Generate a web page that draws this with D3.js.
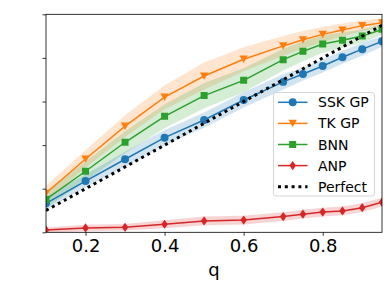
<!DOCTYPE html>
<html><head><meta charset="utf-8">
<script src="https://cdn.jsdelivr.net/npm/d3@7"></script>
<style>body{margin:0;background:#fff}svg{display:block}</style>
</head><body>
<script>
const qValues = [0.1,0.2,0.3,0.4,0.5,0.6,0.7,0.75,0.8,0.85,0.9,0.95];
const sskMean = [0.133,0.235,0.335,0.434,0.515,0.607,0.69,0.726,0.763,0.803,0.84,0.876];
const sskStd  = [0.03,0.03,0.035,0.035,0.035,0.035,0.035,0.03,0.03,0.03,0.03,0.025];
const tkMean  = [0.179,0.336,0.487,0.62,0.717,0.794,0.855,0.883,0.908,0.928,0.948,0.961];
const tkStd   = [0.035,0.04,0.05,0.055,0.062,0.055,0.045,0.04,0.035,0.03,0.025,0.02];
const bnnMean = [0.151,0.28,0.413,0.532,0.627,0.697,0.792,0.83,0.864,0.881,0.9,0.931];
const bnnStd  = [0.04,0.045,0.05,0.055,0.058,0.055,0.05,0.045,0.04,0.035,0.03,0.025];
const anpMean = [0.01,0.02,0.023,0.037,0.052,0.056,0.072,0.083,0.093,0.098,0.113,0.138];
const anpStd  = [0.012,0.015,0.015,0.018,0.02,0.02,0.02,0.02,0.02,0.02,0.02,0.02];
const seriesNames = ["SSK GP","TK GP","BNN","ANP"];
const xTicks = [0.2,0.4,0.6,0.8];
const yTicks = [0,0.2,0.4,0.6,0.8,1.0];

const W=388,H=288;
const svg=d3.select("body").append("svg").attr("width",W).attr("height",H);
const L=46,R=382,T=14.3,B=232.3;
const x=d3.scaleLinear().domain([0.1,0.95]).range([L,R]);
const y=d3.scaleLinear().domain([0,1]).range([B,T]);

const series=[
 {name:seriesNames[0],mean:sskMean,std:sskStd,color:"#1f77b4",marker:"circle"},
 {name:seriesNames[1],mean:tkMean,std:tkStd,color:"#ff7f0e",marker:"triangle"},
 {name:seriesNames[2],mean:bnnMean,std:bnnStd,color:"#2ca02c",marker:"square"},
 {name:seriesNames[3],mean:anpMean,std:anpStd,color:"#d62728",marker:"diamond"}
];

svg.append("clipPath").attr("id","c").append("rect").attr("x",L).attr("y",T).attr("width",R-L).attr("height",B-T);
const g=svg.append("g").attr("clip-path","url(#c)");

const area=d3.area().x((d,i)=>x(qValues[i])).y0(d=>y(d[0])).y1(d=>y(d[1]));
const line=d3.line().x((d,i)=>x(qValues[i])).y(d=>y(d));

function markerPath(type){
  if(type==="circle") return d3.symbol(d3.symbolCircle,50)();
  if(type==="square") return "M-3.5,-3.5H3.5V3.5H-3.5Z";
  if(type==="triangle") return "M-4.2,-3.6L4.2,-3.6L0,3.8Z";
  if(type==="diamond") return "M0,-4.6L3.3,0L0,4.6L-3.3,0Z";
}

series.forEach(s=>{
  const band=s.mean.map((m,i)=>[m-s.std[i],m+s.std[i]]);
  g.append("path").datum(band).attr("d",area).attr("fill",s.color).attr("fill-opacity",0.2);
});
series.forEach(s=>{
  g.append("path").datum(s.mean).attr("d",line).attr("fill","none").attr("stroke",s.color).attr("stroke-width",1.5);
  g.selectAll(null).data(s.mean).enter().append("path")
   .attr("d",markerPath(s.marker))
   .attr("transform",(d,i)=>`translate(${x(qValues[i])},${y(d)})`)
   .attr("fill",s.color);
});
// Perfect
g.append("path").datum(qValues).attr("d",d3.line().x(d=>x(d)).y(d=>y(d)))
 .attr("fill","none").attr("stroke","#000").attr("stroke-width",3).attr("stroke-dasharray","3,3.8");

// axes
const xa=svg.append("g").attr("transform",`translate(0,${B})`)
 .call(d3.axisBottom(x).tickValues(xTicks).tickFormat(d3.format(".1f")).tickSize(3.5).tickPadding(3));
xa.select(".domain").remove();
xa.selectAll("text").attr("font-family","DejaVu Sans").attr("font-size",18).attr("fill","#000");
xa.selectAll("line").attr("stroke","#000").attr("stroke-width",0.8);
const ya=svg.append("g").attr("transform",`translate(${L},0)`)
 .call(d3.axisLeft(y).tickValues(yTicks).tickFormat("").tickSize(3.5));
ya.select(".domain").remove();
ya.selectAll("line").attr("stroke","#000").attr("stroke-width",0.8);
svg.append("rect").attr("x",L).attr("y",T).attr("width",R-L).attr("height",B-T)
 .attr("fill","none").attr("stroke","#000").attr("stroke-width",0.8);

svg.append("text").attr("x",(L+R)/2).attr("y",275.5).attr("text-anchor","middle")
 .attr("font-family","DejaVu Sans").attr("font-size",18).text("q");

// legend
const lg=svg.append("g");
lg.append("rect").attr("x",273.5).attr("y",92.5).attr("width",101).attr("height",103.5).attr("rx",2.5)
 .attr("fill","#fff").attr("fill-opacity",0.8).attr("stroke","#ccc").attr("stroke-width",0.8);
const items=series.map(s=>({name:s.name,color:s.color,marker:s.marker})).concat([{name:"Perfect",color:"#000",marker:null}]);
items.forEach((it,i)=>{
  const yy=102.3+i*21.1;
  if(it.marker){
    lg.append("line").attr("x1",278).attr("x2",307.5).attr("y1",yy).attr("y2",yy).attr("stroke",it.color).attr("stroke-width",1.5);
    lg.append("path").attr("d",markerPath(it.marker)).attr("transform",`translate(292.7,${yy})`).attr("fill",it.color);
  } else {
    lg.append("line").attr("x1",278).attr("x2",307.5).attr("y1",yy).attr("y2",yy).attr("stroke","#000").attr("stroke-width",3).attr("stroke-dasharray","3,3.8");
  }
  lg.append("text").attr("x",318).attr("y",yy+5).attr("font-family","DejaVu Sans").attr("font-size",14).text(it.name);
});
</script>
</body></html>
